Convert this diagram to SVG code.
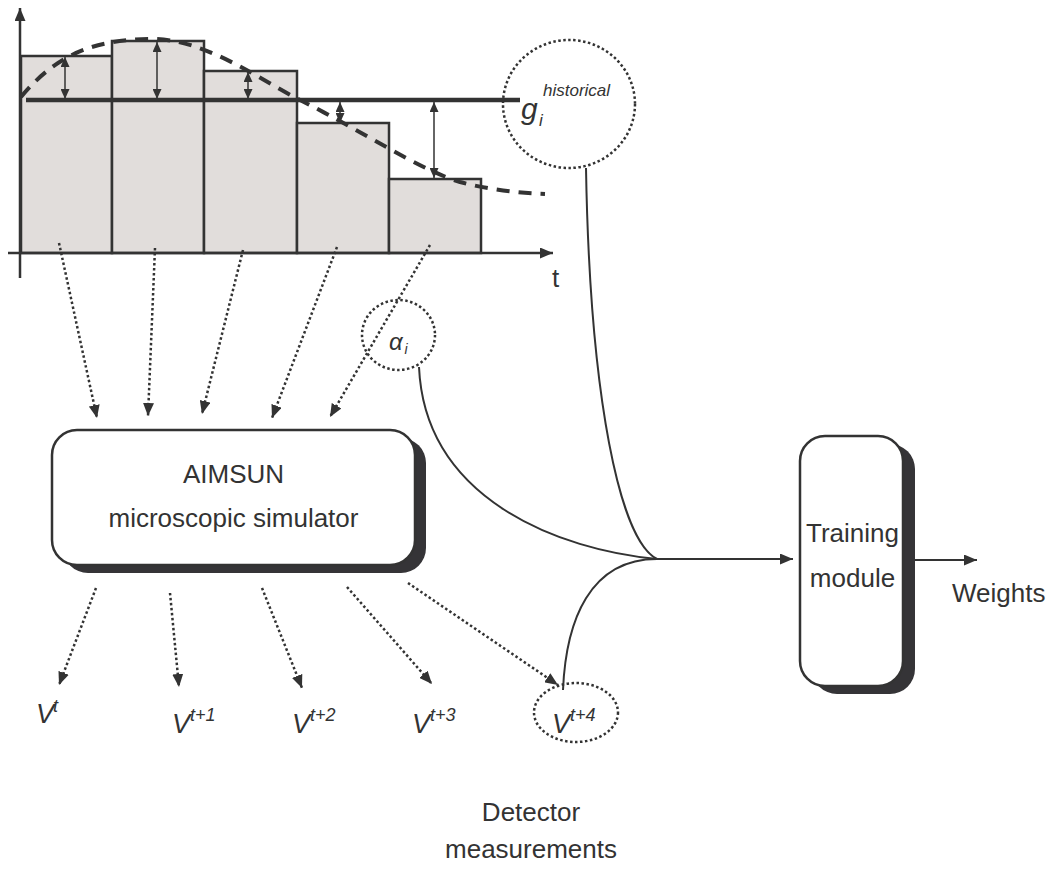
<svg xmlns="http://www.w3.org/2000/svg" width="1051" height="872" viewBox="0 0 1051 872">
<defs>
<style>
text{font-family:"Liberation Sans",Arial,sans-serif;fill:#333;}
.lbl{font-size:26px;}
.it{font-style:italic;}
.ax{stroke:#333;stroke-width:2.5;fill:none;}
.bar{fill:#e1dddb;stroke:#333;stroke-width:2.5;}
.dot{stroke:#333;stroke-width:2.5;stroke-dasharray:2.5 2.5;fill:none;}
.solid{stroke:#333;stroke-width:2;fill:none;}
.thin{stroke:#333;stroke-width:1.5;fill:none;}
.box{fill:#fff;stroke:#333;stroke-width:2.5;}
.shadow{fill:#353437;}
</style>
<marker id="ah" viewBox="0 0 13 11" refX="13" refY="5.5" markerWidth="13" markerHeight="11" markerUnits="userSpaceOnUse" orient="auto"><path d="M0,0 L13,5.5 L0,11 Z" fill="#333"/></marker>
<marker id="ahs" viewBox="0 0 10 9" refX="10" refY="4.5" markerWidth="10" markerHeight="9" markerUnits="userSpaceOnUse" orient="auto-start-reverse"><path d="M0,0 L10,4.5 L0,9 Z" fill="#333"/></marker>
</defs>

<g id="chart">
<rect class="bar" x="21" y="56" width="91" height="197"/>
<rect class="bar" x="112" y="41" width="92" height="212"/>
<rect class="bar" x="204" y="71" width="93" height="182"/>
<rect class="bar" x="297" y="123" width="92" height="130"/>
<rect class="bar" x="389" y="179" width="92" height="74"/>
<line class="ax" x1="20" y1="278" x2="20" y2="8" marker-end="url(#ah)"/>
<line class="ax" x1="8" y1="253" x2="553" y2="253" marker-end="url(#ah)"/>
<line x1="26" y1="100" x2="520" y2="100" stroke="#333" stroke-width="4.5"/>
<path d="M21,97 C60,50 100,40 150,39 C205,38 260,80 300,100 C360,130 420,170 460,182 C490,190 520,193 545,194" fill="none" stroke="#333" stroke-width="4" stroke-dasharray="13 9"/>
<line class="thin" x1="65" y1="57" x2="65" y2="99" marker-start="url(#ahs)" marker-end="url(#ahs)"/>
<line class="thin" x1="157" y1="42" x2="157" y2="99" marker-start="url(#ahs)" marker-end="url(#ahs)"/>
<line class="thin" x1="248" y1="72" x2="248" y2="99" marker-start="url(#ahs)" marker-end="url(#ahs)"/>
<line class="thin" x1="340" y1="102" x2="340" y2="123" marker-start="url(#ahs)" marker-end="url(#ahs)"/>
<line class="thin" x1="434" y1="102" x2="434" y2="178" marker-start="url(#ahs)" marker-end="url(#ahs)"/>
<text class="lbl" x="552" y="287">t</text>
</g>

<g id="g-historical">
<ellipse class="dot" cx="569" cy="104" rx="66" ry="64"/>
<text class="it" x="521" y="119" font-size="30">g</text>
<text class="it" x="539" y="126" font-size="17">i</text>
<text class="it" x="543" y="96" font-size="17">historical</text>
</g>

<g id="alpha">
<ellipse class="dot" cx="398.5" cy="335" rx="36.5" ry="35"/>
<text class="it" x="389" y="350" font-size="24">α</text>
<text class="it" x="404.5" y="354" font-size="14">i</text>
</g>

<g id="aimsun">
<rect class="shadow" x="63" y="438" width="363" height="135" rx="25"/>
<rect class="box" x="52" y="430" width="363" height="135" rx="25"/>
<text class="lbl" x="233.5" y="483" text-anchor="middle">AIMSUN</text>
<text class="lbl" x="233.5" y="527" text-anchor="middle">microscopic simulator</text>
</g>

<g id="training">
<rect class="shadow" x="812" y="444" width="103" height="250" rx="25"/>
<rect class="box" x="800" y="436" width="103" height="250" rx="25"/>
<text class="lbl" x="852.5" y="542" text-anchor="middle">Training</text>
<text class="lbl" x="852.5" y="587" text-anchor="middle">module</text>
</g>

<g id="weights">
<text class="lbl" x="952" y="602">Weights</text>
</g>

<g id="v-labels">
<text class="it" x="36" y="723" font-size="27">V</text>
<text class="it" x="53" y="712" font-size="18">t</text>
<text class="it" x="172" y="733" font-size="27">V</text>
<text class="it" x="190" y="721" font-size="18">t+1</text>
<text class="it" x="292" y="733" font-size="27">V</text>
<text class="it" x="310" y="721" font-size="18">t+2</text>
<text class="it" x="412" y="733" font-size="27">V</text>
<text class="it" x="430" y="721" font-size="18">t+3</text>
</g>

<g id="v-t4">
<ellipse class="dot" cx="576" cy="712.5" rx="42" ry="29.5"/>
<text class="it" x="552" y="733" font-size="27">V</text>
<text class="it" x="570" y="721" font-size="18">t+4</text>
</g>

<g id="detector">
<text class="lbl" x="531" y="821" text-anchor="middle">Detector</text>
<text class="lbl" x="531" y="858" text-anchor="middle">measurements</text>
</g>

<g id="connectors">
<line class="dot" x1="59" y1="243" x2="97" y2="418" marker-end="url(#ah)"/>
<line class="dot" x1="155" y1="248" x2="148" y2="416" marker-end="url(#ah)"/>
<line class="dot" x1="243" y1="250" x2="202" y2="414" marker-end="url(#ah)"/>
<line class="dot" x1="337" y1="247" x2="272" y2="418" marker-end="url(#ah)"/>
<line class="dot" x1="430" y1="245" x2="330" y2="417" marker-end="url(#ah)"/>
<line class="dot" x1="96" y1="588" x2="59" y2="685" marker-end="url(#ah)"/>
<line class="dot" x1="170" y1="593" x2="179" y2="687" marker-end="url(#ah)"/>
<line class="dot" x1="262" y1="588" x2="302" y2="688" marker-end="url(#ah)"/>
<line class="dot" x1="347" y1="587" x2="432" y2="684" marker-end="url(#ah)"/>
<line class="dot" x1="408" y1="583" x2="558" y2="685" marker-end="url(#ah)"/>
<path class="solid" d="M586,168 C590,400 620,540 657,559"/>
<path class="solid" d="M419,367 C425,500 560,550 657,559"/>
<path class="solid" d="M563,690 C566,620 590,559 657,559"/>
<line class="solid" x1="657" y1="559" x2="793" y2="559" marker-end="url(#ah)"/>
<line class="solid" x1="915" y1="560" x2="977" y2="560" marker-end="url(#ah)"/>
</g>
</svg>
